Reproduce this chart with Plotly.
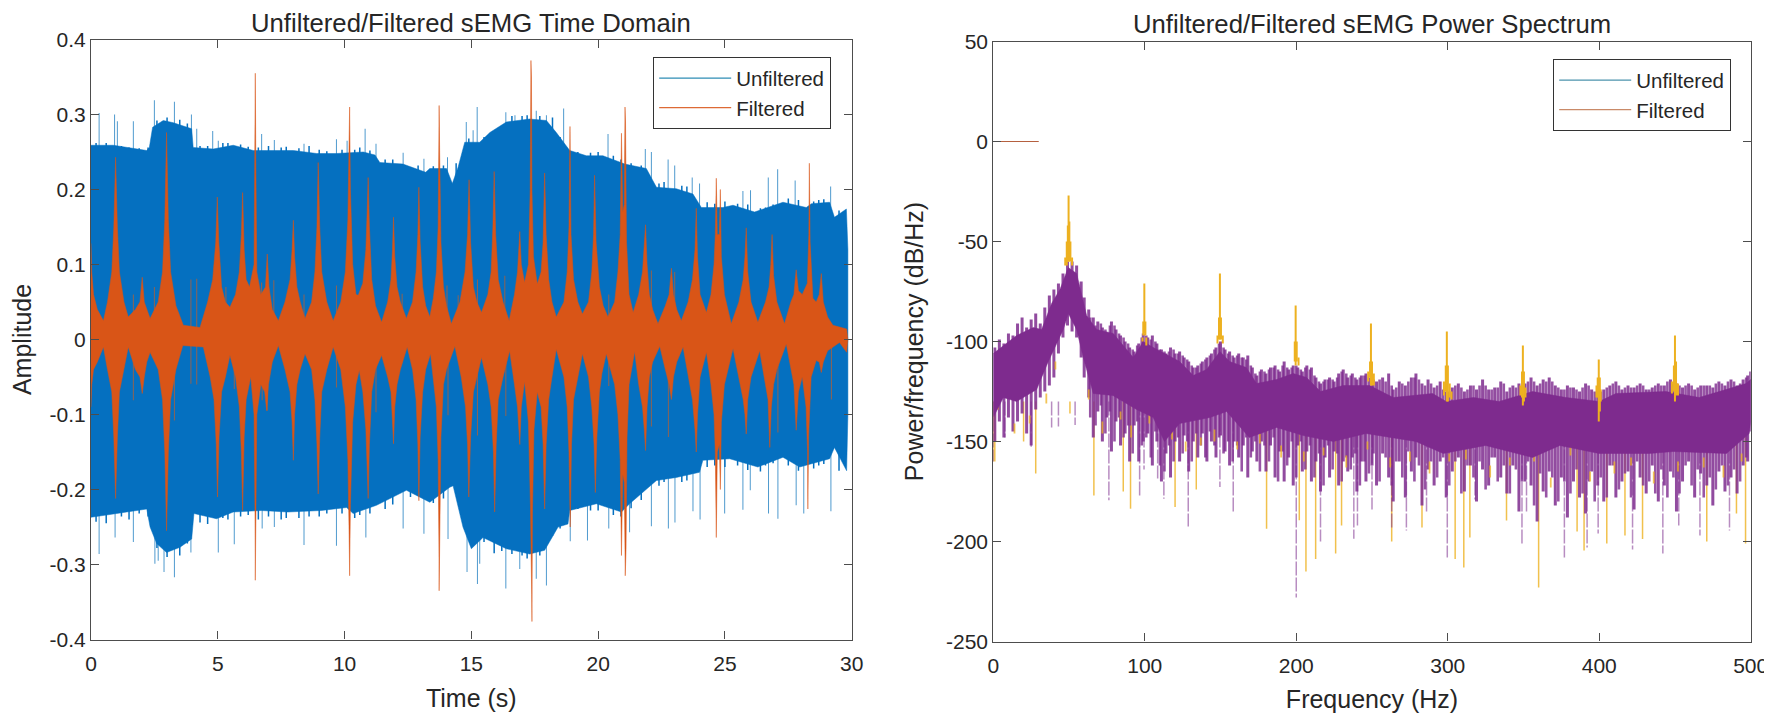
import plotly.graph_objects as go

# Time domain panel: envelopes (time in s, amplitude)
unf_top_t = [0, 0.88, 2.2, 2.3, 2.43, 2.85, 3.25, 3.97, 4.03, 4.82, 5.61, 6.4, 6.93, 7.98, 8.9, 9.68, 10.74, 11.2, 11.39, 12.3, 13.2, 13.36,
             14.02, 14.25, 14.48, 14.74, 15.33, 15.73, 16.38, 17.3, 17.96, 18.35, 18.88, 19.54, 20.19, 21.05, 21.9, 22.3, 23.08,
             23.74, 24.07, 24.92, 25.32, 26.17, 27.29, 28.21, 28.41, 29.13, 29.32, 29.79, 29.85]
unf_top_v = [0.259, 0.259, 0.252, 0.256, 0.283, 0.292, 0.289, 0.281, 0.256, 0.254, 0.259, 0.252, 0.252, 0.252, 0.248, 0.248, 0.25, 0.246, 0.236, 0.234, 0.223, 0.228,
             0.228, 0.208, 0.23, 0.263, 0.263, 0.276, 0.29, 0.294, 0.292, 0.276, 0.252, 0.245, 0.245, 0.234, 0.228, 0.203, 0.201,
             0.194, 0.176, 0.176, 0.179, 0.17, 0.183, 0.176, 0.181, 0.183, 0.163, 0.174, 0.12]
unf_bot_t = [0, 1.01, 2.2, 2.33, 2.59, 2.98, 3.51, 3.97, 4.06, 4.95, 5.61, 6.71, 7.76, 9.08, 10.08, 10.34, 11.26, 12.44, 13.36,
             14.15, 14.28, 14.67, 15.0, 15.46, 16.38, 17.3, 17.89, 18.42, 18.81, 18.88, 19.93, 20.92, 21.24, 22.3, 23.08, 24.0, 24.13,
             25.19, 26.3, 27.29, 27.95, 29.13, 29.32, 29.8, 29.85]
unf_bot_v = [-0.237, -0.232, -0.226, -0.25, -0.272, -0.284, -0.277, -0.266, -0.232, -0.239, -0.23, -0.228, -0.23, -0.228, -0.224, -0.232, -0.221, -0.201, -0.217,
             -0.197, -0.195, -0.25, -0.279, -0.264, -0.279, -0.286, -0.281, -0.25, -0.246, -0.228, -0.219, -0.23, -0.219, -0.188, -0.184, -0.177, -0.161,
             -0.159, -0.17, -0.157, -0.17, -0.159, -0.144, -0.175, -0.1]
unf_up_t = [0.32, 0.93, 1.04, 1.67, 2.5, 3.29, 3.96, 4.17, 4.8, 5.02, 6.73, 7.23, 8.4, 9.68, 10.1, 10.81, 11.24, 12.31, 13.13,
            14.06, 14.8, 15.07, 15.23, 16.36, 16.72, 17.56, 17.96, 18.64, 20.39, 21.86, 22.1, 22.76, 23.02, 23.71, 24.0, 25.71, 26.01, 26.71, 27.08, 27.77, 29.17]
unf_up_v = [0.302, 0.3, 0.291, 0.291, 0.319, 0.317, 0.3, 0.281, 0.278, 0.265, 0.274, 0.266, 0.261, 0.267, 0.265, 0.281, 0.261, 0.249, 0.241,
            0.243, 0.29, 0.279, 0.31, 0.303, 0.299, 0.305, 0.299, 0.308, 0.274, 0.254, 0.25, 0.24, 0.232, 0.216, 0.208, 0.198, 0.199, 0.216, 0.227, 0.212, 0.204]
unf_down_t = [0.32, 0.95, 1.67, 2.52, 2.65, 2.88, 3.29, 3.94, 5.02, 5.65, 6.75, 7.23, 8.4, 9.68, 10.84, 12.31, 13.13,
              14.08, 14.83, 15.24, 15.33, 16.36, 16.91, 17.56, 17.96, 18.9, 19.58, 20.42, 21.24, 22.1, 22.77, 23.03, 23.74, 24.02, 24.99, 25.71, 26.0, 26.72, 27.09, 27.81, 28.11, 29.18]
unf_down_v = [-0.286, -0.264, -0.27, -0.299, -0.295, -0.31, -0.317, -0.284, -0.284, -0.273, -0.252, -0.25, -0.274, -0.275, -0.264, -0.252, -0.259,
              -0.266, -0.31, -0.326, -0.299, -0.332, -0.306, -0.319, -0.328, -0.269, -0.268, -0.252, -0.257, -0.249, -0.252, -0.244, -0.229, -0.24, -0.232, -0.227, -0.201, -0.232, -0.239, -0.221, -0.232, -0.229]
# stubble along the blue edges
unf_jag_t = [0.2, 0.6, 1.2, 1.5, 1.9, 2.25, 2.6, 3.0, 3.5, 3.8, 4.3, 4.6, 5.2, 5.4, 5.9, 6.2, 6.6, 7.0, 7.5, 7.7, 8.2, 8.6, 9.0, 9.3, 9.9, 10.4, 10.6, 11.0, 11.6, 11.9,
             12.6, 12.9, 13.5, 13.9, 14.4, 14.9, 15.5, 15.9, 16.2, 16.6, 17.0, 17.2, 17.7, 18.2, 18.5, 19.2, 19.7, 20.0, 20.6, 20.9, 21.3, 21.7, 22.4, 22.6, 23.3, 23.5,
             24.3, 24.6, 25.0, 25.5, 25.9, 26.4, 26.6, 26.9, 27.5, 27.9, 28.5, 28.7, 28.9, 29.5]
unf_jag_hi = [0.262, 0.262, 0.258, 0.256, 0.255, 0.256, 0.292, 0.296, 0.293, 0.288, 0.258, 0.258, 0.262, 0.262, 0.26, 0.257, 0.256, 0.258, 0.256, 0.257, 0.255, 0.258, 0.253, 0.251, 0.253, 0.253, 0.256, 0.252, 0.24, 0.24,
              0.23, 0.232, 0.231, 0.232, 0.235, 0.268, 0.27, 0.278, 0.285, 0.298, 0.298, 0.299, 0.298, 0.296, 0.27, 0.25, 0.249, 0.25, 0.245, 0.24, 0.235, 0.232, 0.208, 0.21, 0.205, 0.204,
              0.183, 0.181, 0.184, 0.181, 0.18, 0.175, 0.176, 0.18, 0.188, 0.186, 0.184, 0.186, 0.187, 0.172]
unf_jag_lo = [-0.243, -0.245, -0.236, -0.24, -0.232, -0.236, -0.278, -0.29, -0.288, -0.272, -0.244, -0.246, -0.238, -0.24, -0.236, -0.234, -0.24, -0.236, -0.24, -0.238, -0.238, -0.236, -0.236, -0.232, -0.232, -0.238, -0.234, -0.232, -0.226, -0.22,
              -0.21, -0.208, -0.218, -0.212, -0.202, -0.262, -0.27, -0.285, -0.282, -0.286, -0.288, -0.292, -0.288, -0.262, -0.252, -0.226, -0.228, -0.228, -0.234, -0.236, -0.225, -0.214, -0.195, -0.19, -0.19, -0.188,
              -0.17, -0.168, -0.17, -0.168, -0.174, -0.176, -0.168, -0.165, -0.168, -0.175, -0.172, -0.168, -0.166, -0.175]

fil_top_t = [0, 0.03, 0.1, 0.25, 0.49, 0.65, 0.82, 0.9, 0.97, 1.04, 1.12, 1.3, 1.47, 1.75, 1.93, 2.02, 2.1, 2.2, 2.33,
             2.65, 2.82, 2.91, 2.98, 3.05, 3.14, 3.35, 3.64, 4.3, 4.6, 4.8, 4.92, 4.98, 5.04, 5.15, 5.3, 5.48,
             5.7, 5.85, 5.93, 5.98, 6.04, 6.12, 6.25, 6.43, 6.47, 6.48, 6.5, 6.54, 6.7, 6.88, 6.95, 7.02, 7.15, 7.39,
             7.65, 7.85, 7.93, 7.98, 8.03, 8.12, 8.25, 8.44, 8.7, 8.83, 8.91, 8.96, 9.02, 9.1, 9.3, 9.55,
             9.85, 10.03, 10.13, 10.18, 10.2, 10.23, 10.32, 10.45, 10.54, 10.72, 10.84, 10.89, 10.93, 10.98, 11.07, 11.22, 11.46,
             11.7, 11.83, 11.89, 11.93, 11.98, 12.07, 12.2, 12.44, 12.68, 12.82, 12.89, 12.93, 12.98, 13.08, 13.2, 13.36,
             13.5, 13.62, 13.69, 13.72, 13.73, 13.75, 13.8, 13.9, 14.02, 14.21, 14.55, 14.75, 14.85, 14.91, 14.97, 15.08, 15.22, 15.4,
             15.65, 15.78, 15.85, 15.9, 15.96, 16.06, 16.25, 16.49, 16.7, 16.82, 16.87, 16.91, 16.97, 17.1, 17.25, 17.32, 17.35, 17.37, 17.39, 17.45, 17.6,
             17.75, 17.83, 17.89, 17.95, 18.05, 18.18, 18.35, 18.65, 18.78, 18.85, 18.89, 18.93, 19.03, 19.2, 19.38,
             19.62, 19.75, 19.82, 19.86, 19.92, 20.05, 20.2, 20.39, 20.65, 20.78, 20.87, 20.92, 20.97, 21.03, 21.06, 21.08, 21.12, 21.22, 21.38,
             21.6, 21.75, 21.82, 21.87, 21.93, 22.02, 22.15, 22.36, 22.65, 22.8, 22.89, 22.97, 23.1, 23.28,
             23.55, 23.72, 23.82, 23.87, 23.92, 24.02, 24.27, 24.45, 24.57, 24.62, 24.66, 24.7, 24.78, 24.82, 24.86, 24.98, 25.25,
             25.55, 25.72, 25.79, 25.84, 25.9, 26.03, 26.3, 26.6, 26.74, 26.81, 26.86, 26.92, 27.05, 27.35,
             27.6, 27.72, 27.81, 27.9, 28.05, 28.25, 28.31, 28.33, 28.36, 28.47, 28.6, 28.72, 28.8, 28.88, 29.05, 29.26, 29.8, 29.85]
fil_top_v = [0.128, 0.09, 0.06, 0.04, 0.025, 0.05, 0.09, 0.15, 0.243, 0.15, 0.09, 0.05, 0.03, 0.04, 0.05, 0.083, 0.05, 0.04, 0.028,
             0.05, 0.09, 0.16, 0.276, 0.16, 0.09, 0.045, 0.019, 0.016, 0.05, 0.08, 0.13, 0.19, 0.13, 0.07, 0.05, 0.043,
             0.06, 0.09, 0.14, 0.196, 0.12, 0.08, 0.07, 0.1, 0.24, 0.355, 0.24, 0.09, 0.06, 0.07, 0.114, 0.07, 0.04, 0.025,
             0.05, 0.08, 0.12, 0.159, 0.11, 0.07, 0.05, 0.028, 0.05, 0.09, 0.15, 0.236, 0.15, 0.09, 0.05, 0.025,
             0.05, 0.09, 0.16, 0.25, 0.31, 0.2, 0.1, 0.06, 0.059, 0.075, 0.12, 0.17, 0.216, 0.15, 0.08, 0.045, 0.023,
             0.05, 0.08, 0.12, 0.163, 0.11, 0.07, 0.05, 0.028, 0.05, 0.09, 0.14, 0.203, 0.13, 0.07, 0.045, 0.03,
             0.055, 0.09, 0.15, 0.26, 0.312, 0.25, 0.13, 0.07, 0.045, 0.021, 0.05, 0.09, 0.14, 0.213, 0.13, 0.07, 0.05, 0.036,
             0.06, 0.09, 0.15, 0.224, 0.14, 0.08, 0.05, 0.025, 0.06, 0.09, 0.12, 0.144, 0.1, 0.076, 0.1, 0.2, 0.372, 0.35, 0.2, 0.11, 0.074,
             0.09, 0.13, 0.222, 0.14, 0.08, 0.05, 0.03, 0.05, 0.09, 0.15, 0.284, 0.14, 0.08, 0.05, 0.034,
             0.05, 0.09, 0.14, 0.219, 0.13, 0.07, 0.045, 0.03, 0.05, 0.09, 0.14, 0.275, 0.17, 0.18, 0.31, 0.29, 0.13, 0.06, 0.036,
             0.06, 0.09, 0.12, 0.153, 0.1, 0.06, 0.04, 0.021, 0.045, 0.06, 0.095, 0.06, 0.04, 0.025,
             0.05, 0.08, 0.12, 0.175, 0.11, 0.06, 0.036, 0.06, 0.1, 0.14, 0.215, 0.14, 0.14, 0.2, 0.11, 0.06, 0.021,
             0.05, 0.08, 0.11, 0.149, 0.09, 0.05, 0.023, 0.05, 0.07, 0.1, 0.14, 0.085, 0.05, 0.021,
             0.05, 0.06, 0.093, 0.065, 0.06, 0.075, 0.14, 0.235, 0.13, 0.055, 0.05, 0.06, 0.088, 0.05, 0.03, 0.019, 0.014, 0.0]

fil_bot_t = [0, 0.03, 0.1, 0.25, 0.49, 0.65, 0.82, 0.9, 0.97, 1.04, 1.12, 1.3, 1.47, 1.75, 1.93, 2.02, 2.1, 2.2, 2.33,
             2.65, 2.82, 2.91, 2.98, 3.05, 3.14, 3.35, 3.62, 4.43, 4.7, 4.85, 4.94, 4.99, 5.05, 5.15, 5.3, 5.48,
             5.7, 5.85, 5.93, 5.98, 6.04, 6.12, 6.3, 6.43, 6.47, 6.48, 6.5, 6.54, 6.7, 6.85, 6.93, 7.0, 7.15, 7.39,
             7.65, 7.85, 7.93, 7.98, 8.03, 8.12, 8.25, 8.44, 8.7, 8.83, 8.91, 8.96, 9.02, 9.1, 9.3, 9.55,
             9.85, 10.03, 10.13, 10.18, 10.2, 10.23, 10.32, 10.45, 10.58, 10.72, 10.84, 10.89, 10.93, 10.98, 11.07, 11.22, 11.46,
             11.7, 11.83, 11.89, 11.93, 11.98, 12.07, 12.2, 12.47, 12.68, 12.82, 12.89, 12.93, 12.98, 13.08, 13.2, 13.39,
             13.5, 13.62, 13.69, 13.72, 13.73, 13.75, 13.8, 13.9, 14.02, 14.35, 14.6, 14.77, 14.85, 14.9, 14.97, 15.08, 15.22, 15.4,
             15.65, 15.78, 15.87, 15.92, 15.98, 16.06, 16.25, 16.51, 16.7, 16.82, 16.87, 16.91, 16.97, 17.1, 17.25, 17.33, 17.38, 17.39, 17.41, 17.47, 17.6,
             17.75, 17.83, 17.89, 17.95, 18.05, 18.18, 18.35, 18.65, 18.78, 18.85, 18.9, 18.95, 19.03, 19.2, 19.38,
             19.62, 19.75, 19.84, 19.89, 19.95, 20.05, 20.15, 20.32, 20.65, 20.78, 20.87, 20.92, 20.97, 21.03, 21.07, 21.1, 21.14, 21.22, 21.44,
             21.6, 21.75, 21.82, 21.87, 21.93, 22.02, 22.15, 22.43, 22.65, 22.8, 22.89, 22.97, 23.1, 23.35,
             23.55, 23.72, 23.82, 23.87, 23.92, 24.02, 24.27, 24.45, 24.57, 24.62, 24.66, 24.7, 24.78, 24.82, 24.86, 24.98, 25.32,
             25.55, 25.72, 25.79, 25.84, 25.9, 26.03, 26.37, 26.55, 26.7, 26.77, 26.83, 26.92, 27.05, 27.42,
             27.6, 27.72, 27.81, 27.9, 28.05, 28.2, 28.26, 28.27, 28.3, 28.4, 28.6, 28.72, 28.8, 28.88, 29.05, 29.52, 29.8, 29.85]
fil_bot_v = [-0.09, -0.06, -0.04, -0.03, -0.01, -0.04, -0.07, -0.13, -0.212, -0.13, -0.07, -0.04, -0.01, -0.04, -0.05, -0.072, -0.05, -0.03, -0.017,
             -0.04, -0.08, -0.15, -0.255, -0.15, -0.08, -0.04, -0.008, -0.01, -0.05, -0.08, -0.14, -0.21, -0.13, -0.07, -0.05, -0.021,
             -0.05, -0.09, -0.15, -0.228, -0.13, -0.08, -0.05, -0.1, -0.24, -0.321, -0.24, -0.1, -0.06, -0.07, -0.095, -0.06, -0.03, -0.008,
             -0.04, -0.07, -0.11, -0.161, -0.1, -0.06, -0.04, -0.019, -0.04, -0.08, -0.14, -0.206, -0.13, -0.07, -0.04, -0.01,
             -0.04, -0.09, -0.16, -0.26, -0.315, -0.22, -0.11, -0.06, -0.041, -0.07, -0.12, -0.17, -0.212, -0.14, -0.07, -0.04, -0.021,
             -0.05, -0.07, -0.11, -0.139, -0.09, -0.06, -0.04, -0.01, -0.04, -0.08, -0.14, -0.215, -0.13, -0.07, -0.04, -0.019,
             -0.05, -0.09, -0.16, -0.27, -0.335, -0.25, -0.13, -0.06, -0.04, -0.009, -0.05, -0.09, -0.14, -0.21, -0.13, -0.07, -0.05, -0.024,
             -0.06, -0.09, -0.15, -0.23, -0.14, -0.08, -0.05, -0.015, -0.06, -0.09, -0.12, -0.14, -0.09, -0.056, -0.11, -0.22, -0.34, -0.376, -0.23, -0.12, -0.07,
             -0.09, -0.14, -0.226, -0.14, -0.08, -0.05, -0.013, -0.05, -0.09, -0.15, -0.25, -0.14, -0.08, -0.05, -0.019,
             -0.05, -0.09, -0.14, -0.204, -0.13, -0.07, -0.045, -0.019, -0.06, -0.1, -0.16, -0.288, -0.18, -0.19, -0.315, -0.28, -0.13, -0.06, -0.016,
             -0.06, -0.09, -0.12, -0.148, -0.09, -0.05, -0.03, -0.009, -0.04, -0.06, -0.08, -0.05, -0.03, -0.01,
             -0.05, -0.08, -0.12, -0.15, -0.1, -0.05, -0.017, -0.06, -0.1, -0.15, -0.264, -0.15, -0.14, -0.2, -0.11, -0.06, -0.012,
             -0.05, -0.08, -0.1, -0.126, -0.08, -0.05, -0.015, -0.05, -0.08, -0.144, -0.09, -0.06, -0.04, -0.006,
             -0.04, -0.06, -0.121, -0.07, -0.05, -0.09, -0.15, -0.226, -0.13, -0.05, -0.028, -0.03, -0.044, -0.03, -0.015, -0.004, -0.017, 0.0]
# thin orange lines poking out of the filtered band
fil_up_t = [1.67, 2.5, 3.94, 4.17, 5.32, 6.73, 7.21, 8.4, 9.68, 12.27, 14.04, 14.48, 15.24, 16.32, 20.42, 22.1, 23.02]
fil_up_v = [0.06, 0.07, 0.08, 0.081, 0.07, 0.076, 0.079, 0.06, 0.072, 0.061, 0.072, 0.059, 0.08, 0.085, 0.06, 0.092, 0.09]
fil_down_t = [1.67, 3.29, 3.94, 4.17, 5.65, 6.75, 6.95, 9.68, 11.24, 14.08, 15.24, 16.36, 20.42, 22.1, 22.77, 27.09, 29.2]
fil_down_v = [-0.081, -0.108, -0.059, -0.06, -0.066, -0.081, -0.095, -0.064, -0.097, -0.101, -0.128, -0.102, -0.062, -0.116, -0.13, -0.124, -0.08]

# Power spectrum panel (frequency in Hz, dB/Hz)
pur_top_f = [0, 6.6, 15.4, 26.4, 31.9, 38.5, 44, 49.5, 55, 59.4, 61.6, 68.2, 79.2, 88, 92.4, 99, 105.6, 123, 132, 140.8, 149.6, 156, 167, 173.8, 187, 198,
             206.8, 216, 231, 248.5, 264, 290, 299, 317, 334, 356, 378, 400, 411, 444, 466, 497, 500]
pur_top_v = [-106, -102, -97, -93, -94, -81, -74, -63, -66, -80, -87, -94, -96, -104, -108, -100, -103, -110, -117, -114, -105, -110, -113, -121, -119, -116,
             -118, -125, -122, -122, -128, -126, -130, -128, -130, -125, -128, -130, -126, -125, -128, -121, -119]
pur_bot_f = [0, 6.6, 15.4, 28.6, 36.3, 46.2, 49.5, 55, 59.4, 66, 79, 94.6, 105.6, 113, 123, 143, 154, 169, 187, 204.6,
             224.5, 246, 279, 297, 325, 356, 374, 400, 433, 449, 484, 499, 500]
pur_bot_v = [-138, -128, -130, -124, -110, -94, -86, -94, -108, -126, -127, -134, -138, -150, -141, -138, -135, -148, -143, -147,
             -150, -146, -150, -156, -152, -158, -152, -156, -156, -155, -156, -146, -140]
# the ragged spectrum lines around the solid body
comb_f = [1, 4, 7, 10, 13, 16, 19, 22, 25, 28, 31, 34, 37, 40, 43, 46,
          49, 52, 55, 58, 60, 63, 66, 69, 72, 75, 78, 81, 84, 87, 90, 93,
          96, 99, 102, 105, 108, 111, 114, 117, 120, 123, 126, 129, 132, 135, 138, 141,
          144, 147, 150, 153, 156, 159, 162, 165, 168, 171, 174, 177, 180, 183, 186, 189,
          192, 195, 198, 201, 204, 207, 210, 213, 216, 219, 222, 225, 228, 231, 234, 237,
          240, 243, 246, 250, 253, 257, 261, 264, 268, 272, 276, 279, 283, 287, 291, 295,
          299, 303, 307, 311, 315, 319, 323, 327, 331, 335, 339, 343, 347, 351, 355, 359,
          363, 367, 371, 375, 379, 383, 387, 391, 395, 399, 403, 407, 411, 415, 419, 423,
          427, 431, 435, 439, 443, 447, 451, 455, 459, 463, 467, 471, 475, 479, 483, 487, 491, 495, 498, 500]
comb_hi = [-103, -99, -101, -96, -97, -91, -88, -93, -89, -86, -91, -83, -77, -74, -71, -66,
           -60, -60, -62, -70, -78, -84, -88, -90, -93, -96, -90, -94, -97, -100, -103, -105,
           -101, -96, -98, -97, -101, -104, -106, -103, -106, -105, -108, -110, -113, -112, -110, -108,
           -106, -103, -100, -104, -105, -108, -106, -108, -107, -113, -117, -114, -116, -113, -112, -115,
           -110, -114, -112, -113, -115, -112, -113, -118, -121, -119, -118, -120, -116, -114, -118, -116,
           -119, -117, -116, -117, -120, -118, -116, -124, -120, -122, -118, -116, -121, -119, -123, -120,
           -125, -123, -121, -125, -122, -124, -119, -124, -123, -120, -125, -122, -121, -121, -118, -122,
           -119, -118, -122, -124, -122, -123, -125, -121, -124, -126, -124, -122, -120, -124, -122, -123,
           -121, -124, -123, -121, -122, -119, -121, -123, -121, -124, -122, -122, -123, -120, -122, -119, -122, -119, -117, -115]
comb_lo = [-150, -140, -148, -138, -145, -140, -136, -146, -152, -134, -128, -125, -122, -118, -106, -98,
           -92, -95, -98, -108, -118, -128, -148, -135, -150, -138, -155, -140, -152, -146, -160, -142,
           -160, -150, -146, -162, -150, -170, -156, -168, -150, -160, -147, -165, -150, -158, -146, -160,
           -150, -158, -147, -155, -162, -150, -158, -152, -168, -155, -160, -150, -165, -152, -168, -155,
           -170, -158, -172, -152, -165, -155, -170, -160, -175, -158, -168, -155, -172, -160, -165, -158,
           -175, -160, -170, -162, -172, -156, -168, -180, -160, -178, -165, -158, -182, -164, -172, -160,
           -178, -165, -158, -175, -162, -180, -164, -172, -158, -168, -176, -162, -185, -170, -172, -190,
           -175, -165, -182, -168, -188, -170, -178, -186, -165, -172, -180, -162, -178, -170, -165, -184,
           -168, -176, -162, -180, -172, -165, -185, -170, -160, -178, -166, -172, -182, -165, -175, -168, -176, -162, -160, -145]
comb2_f = [64, 67.5, 71, 74, 77, 80, 83, 86, 89, 92, 95, 98, 101, 104, 107, 110,
           113, 116, 119, 122, 125, 128, 131, 134, 137, 140, 143, 146, 149, 152, 155, 158,
           161, 164, 167, 170, 173, 176, 179, 182, 185, 188, 191, 194, 197, 200, 203, 206,
           209, 212, 215, 218, 221, 224, 227, 230, 233, 236, 239, 242, 245, 248, 251, 255,
           259, 263, 266, 270, 274, 278, 281, 285, 289, 293, 297, 301, 305, 309, 313, 317,
           321, 325, 329, 333, 337, 341, 345, 349, 353, 357, 361, 365, 369, 373, 377, 381,
           385, 389, 393, 397, 401, 405, 409, 413, 417, 421, 425, 429, 433, 437, 441, 445,
           449, 453, 457, 461, 465, 469, 473, 477, 481, 485, 489, 493, 497]
comb2_hi = [-88, -92, -91, -94, -92, -92, -96, -98, -101, -104, -102, -98, -97, -99, -100, -104,
            -105, -105, -104, -106, -107, -109, -112, -113, -111, -109, -107, -104, -101, -103, -106, -107,
            -107, -108, -109, -112, -116, -115, -115, -114, -113, -114, -112, -113, -113, -112, -114, -113,
            -114, -117, -120, -120, -119, -119, -118, -115, -116, -117, -118, -118, -117, -118, -119, -119,
            -120, -122, -123, -121, -120, -118, -119, -122, -121, -122, -124, -125, -122, -123, -124, -122,
            -122, -122, -124, -123, -121, -123, -123, -124, -120, -120, -121, -120, -120, -123, -124, -123,
            -124, -123, -122, -125, -125, -123, -121, -122, -123, -123, -122, -122, -124, -122, -122, -120,
            -121, -122, -122, -122, -123, -122, -122, -121, -121, -120, -120, -121, -118]
comb2_lo = [-138, -142, -132, -146, -135, -150, -138, -148, -142, -156, -140, -152, -148, -158, -145, -162,
            -165, -152, -160, -148, -156, -150, -160, -146, -152, -158, -145, -152, -148, -156, -150, -160,
            -152, -165, -148, -158, -150, -165, -152, -160, -148, -170, -155, -162, -150, -168, -150, -164,
            -152, -168, -156, -172, -152, -164, -156, -170, -158, -164, -156, -172, -160, -166, -156, -170,
            -158, -172, -160, -168, -155, -170, -162, -174, -160, -168, -158, -172, -160, -176, -162, -168,
            -160, -174, -158, -170, -162, -176, -164, -170, -160, -182, -166, -178, -168, -180, -170, -176,
            -164, -176, -170, -180, -168, -178, -162, -174, -166, -178, -160, -172, -170, -176, -164, -178,
            -168, -176, -162, -172, -164, -178, -168, -174, -162, -172, -164, -170, -158]
pur_down_f = [0, 7.7, 25, 38.5, 43, 54, 76.3, 96.6, 99.5, 108.5, 112.6, 128.7, 149.6, 158.4, 200, 216, 238, 240.4, 250, 263, 272.7, 286, 299.7, 318, 349, 352, 377, 392, 399.3, 422, 442, 452.5, 466.5, 486]
pur_down_v = [-160, -148, -152.6, -143, -142.5, -141.7, -179.4, -177, -164, -168.5, -178.6, -192.5, -172.7, -185, -228, -200, -198.6, -192, -184, -193, -194.5, -186, -208, -179, -202, -186, -208, -203, -196, -204, -206, -192, -197, -194.5]

yel_down_f = [0, 1, 20, 28, 50.6, 66.4, 85.8, 90.6, 120, 134, 180.4, 202, 206.4, 212.8, 226, 229.9, 263, 283, 304.9, 310.6, 314.6, 338.8, 360, 385.4, 390, 405, 417, 428.6, 471, 490.6, 496.6]
yel_down_v = [-160, -160, -150, -166, -136, -177, -175, -183.6, -182.7, -174, -193.6, -189.4, -215, -208.7, -206, -192, -200, -193, -208.7, -213, -198, -189.5, -223, -195, -204.5, -201, -197, -198.7, -200, -186, -201]
# the narrow yellow peaks at each harmonic
spike_f = [47.5, 48.5, 49.2, 49.7, 50.2, 50.9, 52, 98.5, 99, 99.7, 100.4, 101, 148, 149, 149.6, 150.3, 151.5, 199, 199.6, 200.3, 201.5,
           247.5, 248.7, 249.3, 250, 251.2, 297.5, 298.7, 299.4, 300.1, 301.3, 302.5, 348, 349, 349.6, 350.3, 351.3, 398.2, 399, 399.7, 400.4, 401, 448, 449.3, 450, 450.7, 452]
spike_top = [-58, -50, -42, -27, -40, -50, -58, -98, -90, -71, -90, -98, -97, -88, -66, -88, -97, -100, -82, -100, -108,
             -115, -110, -91, -110, -116, -120, -112, -95, -112, -121, -125, -122, -115, -102, -115, -123, -122, -118, -109, -118, -124, -120, -112, -97, -110, -121]
spike_base = [-62, -62, -60, -60, -60, -60, -62, -100, -97, -96, -97, -102, -101, -99, -99, -99, -101, -110, -112, -110, -112,
              -120, -118, -122, -122, -122, -127, -125, -130, -130, -128, -129, -127, -128, -132, -130, -128, -128, -128, -140, -135, -130, -126, -125, -130, -127, -127]
# yellow flecks left showing along the lower edge
fleck_f = [3, 14, 24, 35, 41, 63, 72, 84, 91, 103, 118, 127, 137, 146, 161, 176, 190, 205, 218, 233, 247, 262, 275, 288, 301, 312, 328, 341, 357, 368, 381, 394, 410, 421, 436, 452, 469, 482, 494]
fleck_top = [-128, -141, -137, -126, -110, -124, -140, -135, -142, -136, -145, -150, -148, -144, -150, -146, -152, -155, -153, -157, -150, -158, -155, -160, -156, -154, -162, -158, -155, -168, -152, -165, -160, -158, -165, -160, -158, -162, -156]
fleck_bot = [-134, -146, -141, -131, -114, -129, -146, -139, -148, -141, -149, -155, -152, -150, -154, -151, -158, -160, -157, -163, -154, -163, -160, -166, -160, -159, -168, -162, -160, -173, -157, -170, -166, -162, -171, -165, -163, -168, -160]

# The short flat stretch at 0 dB
flat_f = [0, 30]
flat_v = [0, 0]

x_ticks_left = [0, 5, 10, 15, 20, 25, 30]
y_ticks_left = [-0.4, -0.3, -0.2, -0.1, 0, 0.1, 0.2, 0.3, 0.4]
y_labels_left = ['-0.4', '-0.3', '-0.2', '-0.1', '0', '0.1', '0.2', '0.3', '0.4']
x_ticks_right = [0, 100, 200, 300, 400, 500]
y_ticks_right = [-250, -200, -150, -100, -50, 0, 50]
y_labels_right = ['-250', '-200', '-150', '-100', '-50', '0', '50']

FONT = 'Liberation Sans'
INK = '#262626'
AXIS = '#4d4d4d'
BLUE = '#0570C0'
ORANGE = '#D95517'
PURPLE = '#7E2B8E'
FIG_W, FIG_H = 1764, 705


# page pixels to paper fractions; the figure sits inside the 8 px body margin
def px(x):
    return (x - 8) / FIG_W


def py(y):
    return 1 - (y - 8) / FIG_H


def stems(xs, tips, bases):
    x, y = [], []
    for a, b, c in zip(xs, tips, bases):
        x += [a, a, None]
        y += [c, b, None]
    return x, y


def band(top_x, top_y, bot_x, bot_y, color, xa, ya):
    return go.Scatter(x=top_x + bot_x[::-1], y=top_y + bot_y[::-1], mode='lines', fill='toself', fillcolor=color,
                      line=dict(color=color, width=0.5), showlegend=False, hoverinfo='skip', xaxis=xa, yaxis=ya)


def stem_trace(xs, tips, bases, color, width, xa, ya, dash=None):
    x, y = stems(xs, tips, bases)
    return go.Scatter(x=x, y=y, mode='lines', line=dict(color=color, width=width, dash=dash), showlegend=False,
                      hoverinfo='skip', xaxis=xa, yaxis=ya)


def legend_key(name, color, xa, ya, legend):
    return go.Scatter(x=[None], y=[None], mode='lines', name=name, line=dict(color=color, width=1.3),
                      xaxis=xa, yaxis=ya, legend=legend)


fig = go.Figure()

# left panel
fig.add_trace(stem_trace(unf_up_t, unf_up_v, [0] * len(unf_up_t), 'rgba(20,120,190,0.75)', 1, 'x', 'y'))
fig.add_trace(stem_trace(unf_down_t, unf_down_v, [0] * len(unf_down_t), 'rgba(20,120,190,0.75)', 1, 'x', 'y'))
fig.add_trace(stem_trace(unf_jag_t, unf_jag_hi, unf_jag_lo, BLUE, 1.5, 'x', 'y'))
fig.add_trace(band(unf_top_t, unf_top_v, unf_bot_t, unf_bot_v, BLUE, 'x', 'y'))
fig.add_trace(stem_trace(fil_up_t, fil_up_v, [0] * len(fil_up_t), 'rgba(190,95,45,0.75)', 1, 'x', 'y'))
fig.add_trace(stem_trace(fil_down_t, fil_down_v, [0] * len(fil_down_t), 'rgba(190,95,45,0.75)', 1, 'x', 'y'))
fig.add_trace(band(fil_top_t, fil_top_v, fil_bot_t, fil_bot_v, ORANGE, 'x', 'y'))
fig.add_trace(legend_key('Unfiltered', '#2E8DB5', 'x', 'y', 'legend'))
fig.add_trace(legend_key('Filtered', '#DD6A35', 'x', 'y', 'legend'))

# right panel
fig.add_trace(stem_trace(yel_down_f, yel_down_v, [-130] * len(yel_down_f), 'rgba(237,177,32,0.8)', 1.5, 'x2', 'y2'))
fig.add_trace(stem_trace(pur_down_f, pur_down_v, [-130] * len(pur_down_f), 'rgba(126,47,142,0.55)', 1.5, 'x2', 'y2', dash='14px,2px'))
fig.add_trace(stem_trace(comb_f, comb_hi, comb_lo, 'rgba(126,43,142,0.85)', 3, 'x2', 'y2'))
fig.add_trace(stem_trace(comb2_f, comb2_hi, comb2_lo, 'rgba(126,43,142,0.8)', 2.6, 'x2', 'y2'))
fig.add_trace(stem_trace(fleck_f, fleck_top, fleck_bot, 'rgba(237,177,32,0.75)', 1.8, 'x2', 'y2'))
fig.add_trace(band(pur_top_f, pur_top_v, pur_bot_f, pur_bot_v, PURPLE, 'x2', 'y2'))
fig.add_trace(stem_trace(spike_f, spike_top, spike_base, '#EDB120', 2, 'x2', 'y2'))
fig.add_trace(go.Scatter(x=flat_f, y=flat_v, mode='lines', line=dict(color='#B5603F', width=1.2), showlegend=False,
                         hoverinfo='skip', xaxis='x2', yaxis='y2'))
fig.add_trace(legend_key('Unfiltered', '#4C93AD', 'x2', 'y2', 'legend2'))
fig.add_trace(legend_key('Filtered', '#C98A68', 'x2', 'y2', 'legend2'))

axis_style = dict(showgrid=False, zeroline=False, showline=True, linecolor=AXIS, linewidth=1.2, mirror='ticks',
                  ticks='inside', ticklen=8, tickwidth=1.2, tickcolor=AXIS, automargin=False,
                  tickfont=dict(family=FONT, size=21, color=INK))
title_font = dict(family=FONT, size=25, color=INK)
head_font = dict(family=FONT, size=25.7, color=INK)
legend_style = dict(bgcolor='white', bordercolor='#333333', borderwidth=1.2, itemwidth=72, xanchor='left', yanchor='top',
                    font=dict(family=FONT, size=20.5, color=INK), tracegroupgap=0, itemclick=False)

fig.update_layout(
    width=FIG_W, height=FIG_H,
    margin=dict(l=0, r=0, t=0, b=0), plot_bgcolor='white', paper_bgcolor='white',
    xaxis=dict(domain=[px(91), px(851.7)], range=[0, 30], tickvals=x_ticks_left, anchor='y', ticklabelstandoff=5,
               title=dict(text='Time (s)', font=title_font), **axis_style),
    yaxis=dict(domain=[py(639.5), py(39.5)], range=[-0.4, 0.4], tickvals=y_ticks_left, ticktext=y_labels_left, anchor='x',
               title=dict(text='Amplitude', font=title_font), **axis_style),
    xaxis2=dict(domain=[px(993.3), px(1750.7)], range=[0, 500], tickvals=x_ticks_right, anchor='y2', ticklabelstandoff=5,
                title=dict(text='Frequency (Hz)', font=title_font), **axis_style),
    yaxis2=dict(domain=[py(641.5), py(41.5)], range=[-250, 50], tickvals=y_ticks_right, ticktext=y_labels_right, anchor='x2',
                title=dict(text='Power/frequency (dB/Hz)', font=title_font), **axis_style),
    legend=dict(x=px(653), y=py(57), **legend_style),
    legend2=dict(x=px(1553), y=py(59), **legend_style),
    annotations=[
        dict(text='Unfiltered/Filtered sEMG Time Domain', x=px(471), y=py(23), xref='paper', yref='paper',
             xanchor='center', yanchor='middle', showarrow=False, font=head_font),
        dict(text='Unfiltered/Filtered sEMG Power Spectrum', x=px(1372), y=py(24), xref='paper', yref='paper',
             xanchor='center', yanchor='middle', showarrow=False, font=head_font),
    ],
)

fig.write_html("out.html")
